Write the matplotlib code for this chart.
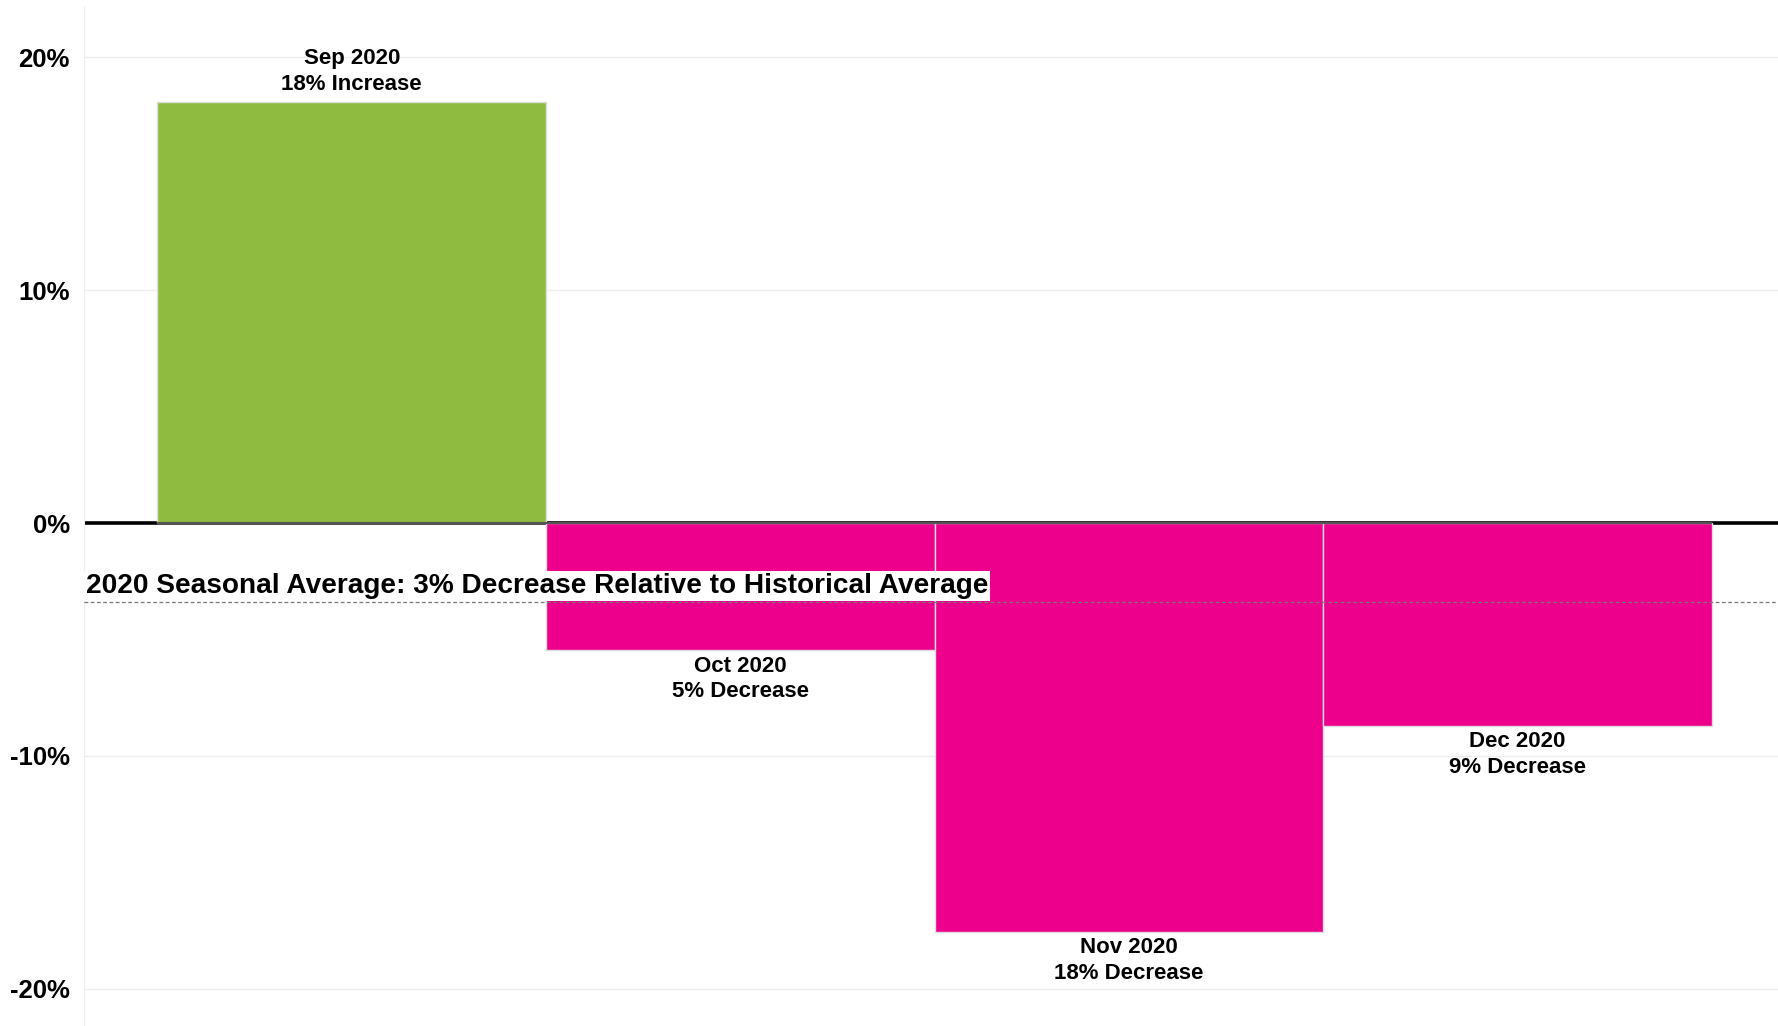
import matplotlib
matplotlib.use("Agg")
import matplotlib.pyplot as plt
import numpy as np

months = ["Sep 2020", "Oct 2020", "Nov 2020", "Dec 2020"]
values = [18.1, -5.45, -17.55, -8.7]
pct_labels = ["18% Increase", "5% Decrease", "18% Decrease", "9% Decrease"]
seasonal_avg = -3.4
avg_label = "2020 Seasonal Average: 3% Decrease Relative to Historical Average"
yticks = [-20, -10, 0, 10, 20]
ytick_labels = ["-20%", "-10%", "0%", "10%", "20%"]

plt.rcParams['font.family'] = ['Liberation Sans', 'DejaVu Sans']

fig = plt.figure(figsize=(17.78, 10.26), dpi=100)
ax = fig.add_axes([0.047, 0.0, 0.953, 0.994])

x = np.arange(len(values))
colors = ['#8fbc40' if v >= 0 else '#ec008c' for v in values]

ax.axhline(0, color='black', lw=2.6, zorder=1)
ax.bar(x, values, width=1.0, color=colors, edgecolor='#dddddd', linewidth=1.0, zorder=2)
ax.hlines(0, x[0] - 0.5, x[-1] + 0.5, color='#555555', lw=1.6, zorder=3)

for xi, v, m, p in zip(x, values, months, pct_labels):
    if v >= 0:
        ax.annotate(f"{m}\n{p}", (xi, v), xytext=(0, 5), textcoords='offset points',
                    ha='center', va='bottom', fontsize=16, fontweight='bold', linespacing=1.3)
    else:
        ax.annotate(f"{m}\n{p}", (xi, v), xytext=(0, -4), textcoords='offset points',
                    ha='center', va='top', fontsize=16, fontweight='bold', linespacing=1.3)

ax.axhline(seasonal_avg, color='#777777', lw=0.9, ls=(0, (3, 2)), zorder=6)
ax.text(-0.685, -2.7, avg_label, ha='left', va='center', fontsize=20.2, fontweight='bold',
        zorder=5, bbox=dict(facecolor='white', edgecolor='none', pad=1.2))

ax.set_xlim(-0.69, 3.67)
ax.set_ylim(-21.6, 22.2)
ax.set_yticks(yticks)
ax.set_yticklabels(ytick_labels, fontsize=18.5, fontweight='bold')
ax.set_xticks([])
ax.tick_params(axis='y', length=0, pad=10)
ax.grid(axis='y', color='#eeeeee', lw=1, zorder=0)
ax.set_axisbelow(True)
for s in ['top', 'right', 'bottom']:
    ax.spines[s].set_visible(False)
ax.spines['left'].set_color('#eeeeee')

fig.savefig('out.png', dpi=100)
